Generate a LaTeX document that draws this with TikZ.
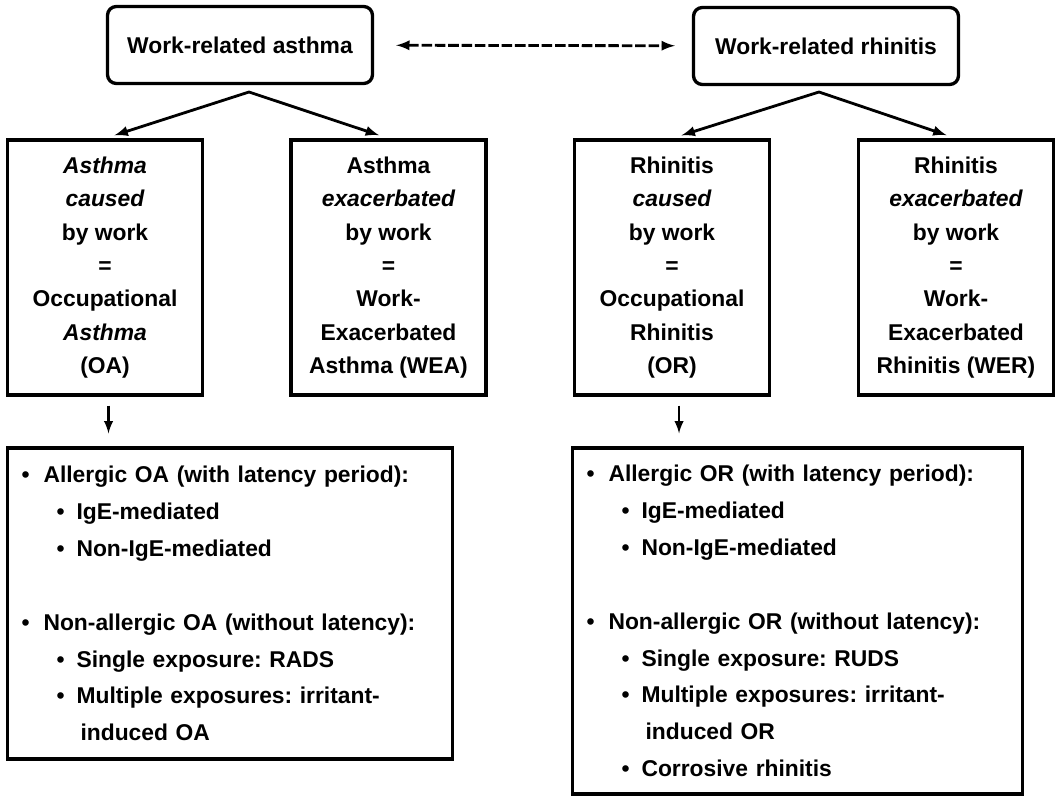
\documentclass[tikz,border=0pt]{standalone}
\usepackage{fontspec}
\setmainfont{Liberation Sans}
\frenchspacing
\tikzset{
  >=latex,
}
\tikzstyle{every node}=[font=\bfseries\fontsize{13}{19}\selectfont]
\tikzstyle{topbox}=[draw,line width=1.9pt,rounded corners=5pt,minimum width=5.3cm,minimum height=1.54cm]
\tikzstyle{defbox}=[draw,line width=1.9pt,minimum width=3.9cm,minimum height=5.1cm,align=center,inner sep=0pt]
\tikzstyle{listbox}=[draw,line width=1.9pt,align=left,inner xsep=0.28cm,text width=8.34cm,
  font=\bfseries\fontsize{13}{21}\selectfont]
\tikzstyle{link}=[line width=1.6pt]
\newcommand{\firstlvl}[1]{\makebox[0.44cm][l]{\textbullet}#1}
\newcommand{\secondlvl}[1]{\hspace*{0.7cm}\makebox[0.4cm][l]{\textbullet}#1}
\newcommand{\wrapped}[1]{\hspace*{1.18cm}#1}

\begin{document}
\begin{tikzpicture}[x=0.02cm,y=-0.02cm]
    \useasboundingbox (0,0) rectangle (1058,796);
    % top row
    \node[topbox] (wra) at (240,45) {Work-related asthma};
    \node[topbox] (wrr) at (826,46) {Work-related rhinitis};
    \draw[link,dash pattern=on 6pt off 1.6pt,<->,shorten <=0.44cm,shorten >=0.34cm] (wra) -- (wrr);
    % caused / exacerbated by work
    \node[defbox] (oa) at (105,267.5) {\itshape Asthma\\ \itshape caused\\ by work\\ =\\ Occupational\\ \itshape Asthma\\ (OA)};
    \node[defbox] (wea) at (388.5,267.5) {Asthma\\ \itshape exacerbated\\ by work\\ =\\ Work-\\ Exacerbated\\ Asthma (WEA)};
    \node[defbox] (or) at (672,267.5) {Rhinitis\\ \itshape caused\\ by work\\ =\\ Occupational\\ Rhinitis\\ (OR)};
    \node[defbox] (wer) at (956,267.5) {Rhinitis\\ \itshape exacerbated\\ by work\\ =\\ Work-\\ Exacerbated\\ Rhinitis (WER)};
    \coordinate (la) at (249,92);
    \coordinate (ra) at (819,92);
    \draw[link,<->,shorten <=0.2cm,shorten >=0.2cm] (oa.north) -- (la) -- (wea.north);
    \draw[link,<->,shorten <=0.2cm,shorten >=0.2cm] (or.north) -- (ra) -- (wer.north);
    % subtypes
    \node[listbox,minimum height=6.22cm] (oalist) at (230,603.5) {%
      \firstlvl{Allergic OA (with latency period):}\\
      \secondlvl{IgE-mediated}\\
      \secondlvl{Non-IgE-mediated}\\[21pt]
      \firstlvl{Non-allergic OA (without latency):}\\
      \secondlvl{Single exposure: RADS}\\
      \secondlvl{Multiple exposures: irritant-}\\
      \wrapped{induced OA}};
    \node[listbox,minimum height=6.92cm,text width=8.44cm] (orlist) at (797.5,621) {%
      \firstlvl{Allergic OR (with latency period):}\\
      \secondlvl{IgE-mediated}\\
      \secondlvl{Non-IgE-mediated}\\[21pt]
      \firstlvl{Non-allergic OR (without latency):}\\
      \secondlvl{Single exposure: RUDS}\\
      \secondlvl{Multiple exposures: irritant-}\\
      \wrapped{induced OR}\\
      \secondlvl{Corrosive rhinitis}};
    \draw[->,line width=1.4pt,shorten <=0.18cm,shorten >=0.26cm] ([xshift=2]oa.south) -- ([xshift=2]oa.south |- oalist.north);
    \draw[->,line width=1.4pt,shorten <=0.18cm,shorten >=0.26cm] ([xshift=4]or.south) -- ([xshift=4]or.south |- orlist.north);
  \end{tikzpicture}
\end{document}
